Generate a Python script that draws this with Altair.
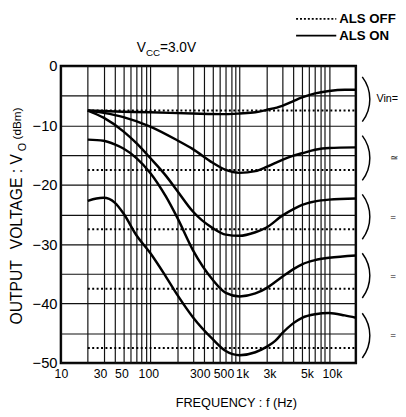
import altair as alt
import pandas as pd

# ---------------- data ----------------
# ALS ON (solid curves): frequency (Hz) and output (dBm)
c1_f = [20, 50, 100, 300, 700, 1000, 1500, 2000, 3000, 4000, 5000, 7000, 10000, 15000, 20000]
c1_db = [-7.5, -7.7, -7.8, -8.0, -8.1, -8.0, -7.8, -7.4, -6.7, -5.9, -5.3, -4.6, -4.2, -4.0, -4.0]

c2_f = [20, 30, 50, 100, 200, 300, 500, 700, 1000, 1500, 2000, 3000, 4000, 5000, 7000, 10000, 20000]
c2_db = [-7.5, -7.9, -8.6, -10.2, -12.5, -14.0, -16.3, -17.5, -18.0, -17.7, -17.0, -15.8, -15.1, -14.7, -14.1, -13.8, -13.7]

c3_f = [20, 30, 50, 70, 100, 150, 200, 300, 500, 700, 1000, 1500, 2000, 3000, 4000, 5000, 7000, 10000, 20000]
c3_db = [-7.5, -8.7, -11.0, -13.0, -15.5, -18.5, -21.0, -24.5, -27.3, -28.4, -28.6, -28.0, -27.2, -25.2, -24.1, -23.4, -22.8, -22.5, -22.3]

c4_f = [20, 30, 40, 50, 70, 100, 150, 200, 300, 500, 700, 1000, 1500, 2000, 3000, 4000, 5000, 7000, 10000, 20000]
c4_db = [-12.4, -12.6, -13.2, -13.9, -15.5, -18.0, -22.0, -25.5, -31.0, -36.0, -38.2, -38.8, -38.3, -37.4, -35.5, -34.2, -33.4, -32.7, -32.3, -31.9]

c5_f = [20, 25, 30, 40, 50, 70, 100, 150, 200, 300, 500, 700, 1000, 1500, 2000, 2500, 3000, 4000, 5000, 7000, 10000, 15000, 20000]
c5_db = [-22.7, -22.3, -22.2, -23.0, -24.8, -28.5, -31.5, -35.5, -38.5, -42.3, -46.0, -48.0, -48.7, -48.2, -47.3, -46.3, -45.0, -43.3, -42.4, -41.8, -41.6, -42.0, -42.4]

# ALS OFF (dotted lines): flat levels from 20 Hz to 20 kHz
off_levels = [-7.5, -17.5, -27.5, -37.5, -47.5]
off_f = [20, 20000]

# brace centres (dBm) on the right-hand side
brace_centres = [-5.6, -15.5, -25.4, -35.3, -45.4]

# axis ticks
x_grid = [10, 20, 30, 40, 50, 60, 70, 80, 90,
          100, 200, 300, 400, 500, 600, 700, 800, 900,
          1000, 2000, 3000, 4000, 5000, 6000, 7000, 8000, 9000,
          10000, 20000]
x_labelled = [10, 30, 50, 100, 300, 500, 1000, 3000, 5000, 10000]
y_grid = [0, -5, -10, -15, -20, -25, -30, -35, -40, -45, -50]

# ---------------- build tables ----------------
rows = []
for name, fs, ds in [("1", c1_f, c1_db), ("2", c2_f, c2_db), ("3", c3_f, c3_db),
                     ("4", c4_f, c4_db), ("5", c5_f, c5_db)]:
    for f, d in zip(fs, ds):
        rows.append({"curve": name, "f": f, "db": d})
on_df = pd.DataFrame(rows)

off_rows = []
for i, lvl in enumerate(off_levels):
    for f in off_f:
        off_rows.append({"line": str(i), "f": f, "db": lvl})
off_df = pd.DataFrame(off_rows)

# ---------------- layout constants ----------------
W, H = 301, 303
PAD_L, PAD_T = 54, 55
X0, Y0 = 8 + PAD_L, 8 + PAD_T  # page position of plot origin
FONT = "Liberation Sans"

xs = alt.Scale(type="log", domain=[10, 20000], nice=False)
ys = alt.Scale(domain=[-50, 0], nice=False)

label_expr = ("indexof(%s, datum.value) < 0 ? '' : "
              "(datum.value >= 1000 ? (datum.value / 1000) + 'k' : '' + datum.value)") % str(x_labelled)

# small per-label nudges, as the hand-lettered labels sit in the original
label_nudge = {"condition": [
    {"test": "datum.value == 30", "value": -3.5},
    {"test": "datum.value == 50", "value": -2},
    {"test": "datum.value == 100", "value": -2},
    {"test": "datum.value == 300", "value": 7},
    {"test": "datum.value == 500", "value": 11},
    {"test": "datum.value == 1000", "value": 2.5},
    {"test": "datum.value == 3000", "value": -13},
    {"test": "datum.value == 5000", "value": 5},
    {"test": "datum.value == 10000", "value": 3},
], "value": 0}

x_axis = alt.Axis(values=x_grid, labelExpr=label_expr, labelOverlap=False, grid=True,
                  gridColor="#111111", gridWidth=1.2, gridOpacity=1, domain=False, ticks=False,
                  labelFont=FONT, labelFontSize=12.5, labelColor="black", labelPadding=5,
                  labelFlush=False, labelOffset=label_nudge, title=None)
y_axis = alt.Axis(values=y_grid,
                  labelExpr="datum.value % 10 != 0 ? '' : (datum.value == 0 ? '0' : '\u2212' + abs(datum.value))",
                  labelOverlap=False, grid=True, gridColor="#111111", gridWidth=1.2, gridOpacity=1,
                  domain=False, ticks=False, labelFont=FONT, labelFontSize=15,
                  labelColor="black", labelPadding=4, labelFlush=False, title=None)

X = alt.X("f:Q", scale=xs, axis=x_axis)

on_layer = alt.Chart(on_df).mark_line(color="black", strokeWidth=2.5, interpolate="monotone").encode(
    x=X,
    y=alt.Y("db:Q", scale=ys, axis=y_axis),
    detail="curve:N",
)

off_layer = alt.Chart(off_df).mark_line(color="black", strokeWidth=2.0, strokeDash=[2, 2.5]).encode(
    x=X,
    y=alt.Y("db:Q", scale=ys, axis=y_axis),
    detail="line:N",
)

# one layer per brace (a thin circular arc opening to the left)
brace_layers = []
for c in brace_centres:
    brace_layers.append(
        alt.Chart(pd.DataFrame({"c": [c]})).mark_arc(
            color="black", radius=38.5, radius2=37.0, theta=0.92, theta2=2.22
        ).encode(
            x=alt.value(339.5 - X0),
            y=alt.Y("c:Q", scale=ys, axis=y_axis),
        )
    )

dummy = pd.DataFrame({"a": [0]})


def txt(s, px, py, size=13, weight="normal", align="center", baseline="middle", angle=0):
    return alt.Chart(dummy).mark_text(
        font=FONT, fontSize=size, fontWeight=weight, align=align, baseline=baseline,
        angle=angle, color="black"
    ).encode(x=alt.value(px - X0), y=alt.value(py - Y0), text=alt.value(s))


def rule(px1, px2, py, dash=None, width=1.6):
    kw = dict(color="black", strokeWidth=width)
    if dash:
        kw["strokeDash"] = dash
    return alt.Chart(dummy).mark_rule(**kw).encode(
        x=alt.value(px1 - X0), x2=alt.value(px2 - X0), y=alt.value(py - Y0))


texts = [
    # legend
    rule(302, 343, 15, dash=[2, 2], width=1.8),
    txt("ALS OFF", 346, 15, size=13.5, weight="bold", align="left"),
    rule(302, 343, 32, width=1.6),
    txt("ALS ON", 346, 32, size=13.5, weight="bold", align="left"),
    # Vcc
    txt("V", 144, 45, size=14, align="center"),
    txt("CC", 156, 50, size=10, align="center"),
    txt("=3.0V", 163, 45, size=14, align="left"),
    # y title (rotated)
    txt("OUTPUT", 17, 294, size=16, angle=270),
    txt("VOLTAGE : V", 17, 250, size=16, angle=270, align="left"),
    txt("O", 23, 150, size=11, angle=270, align="left"),
    txt("(dBm)", 17, 138, size=12, angle=270, align="left"),
    # x title
    txt("FREQUENCY : f (Hz)", 241, 407, size=13),
    # right labels
    txt("Vin=", 384, 97, size=11, align="left"),
    txt("\u2243", 398, 157, size=10, align="left"),
    txt("=", 398, 217, size=10, align="left"),
    txt("=", 398, 277, size=10, align="left"),
    txt("=", 398, 338, size=10, align="left"),
]

chart = alt.layer(on_layer, off_layer, *brace_layers, *texts).properties(
    width=W, height=H,
    autosize=alt.AutoSizeParams(type="none"),
    padding={"left": PAD_L, "top": PAD_T, "right": 398 - PAD_L - W, "bottom": 409 - PAD_T - H},
    background="white",
).configure_view(stroke="black", strokeWidth=2.5)

chart.save("out.html", embed_options={"renderer": "svg", "actions": False})
